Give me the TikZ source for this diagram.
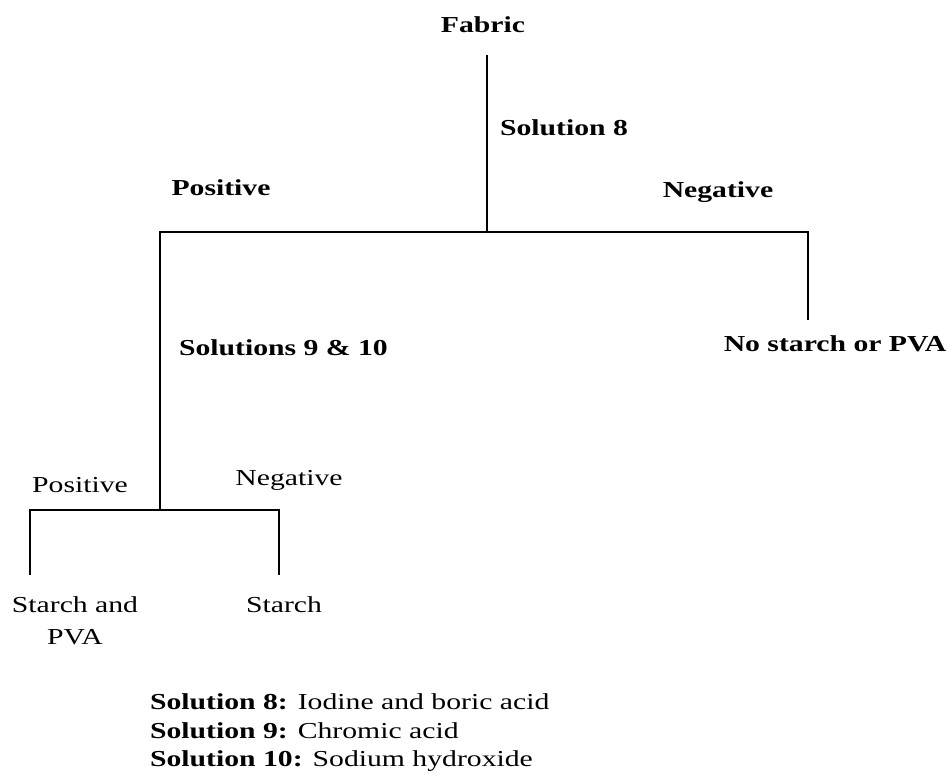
\documentclass[tikz,border=0pt]{standalone}
\usepackage{fontspec}
\setmainfont{Liberation Serif}[FakeStretch=1.3]
\usetikzlibrary{positioning}
\tikzset{
  branch/.style={line width=1.6pt},
  lbl/.style={font=\fontsize{13}{15.6}\selectfont, inner sep=1pt},
  lblb/.style={lbl, font=\fontsize{13}{15.6}\selectfont\bfseries},
}

\begin{document}
\begin{tikzpicture}
\useasboundingbox (0,0) rectangle (18.96,15.66);
% Junctions and branch ends
\coordinate (stem) at (9.74,14.56);
\coordinate (split1) at (9.74,11.02);
\coordinate (split2) at (3.2,5.46);
\coordinate (endneg1) at (16.16,9.26);
\coordinate (endpos2) at (0.6,4.16);
\coordinate (endneg2) at (5.58,4.16);
% Texts
\node[lblb] (fabric) at (9.66,15.16) {Fabric};
\node[lblb, anchor=west] (sol8) at (9.96,13.10) {Solution 8};
\node[lblb] (pos1) at (4.42,11.90) {Positive};
\node[lblb] (neg1) at (14.36,11.82) {Negative};
\node[lblb] (nostarch) at (16.70,8.78) {No starch or PVA};
\node[lblb, anchor=west] (sol910) at (3.54,8.70) {Solutions 9 \& 10};
\node[lbl] (pos2) at (1.60,5.96) {Positive};
\node[lbl] (neg2) at (5.78,6.06) {Negative};
\node[lbl, align=center, font=\fontsize{13}{18}\selectfont] (both) at (1.50,3.24) {Starch and\\PVA};
\node[lbl] (starch) at (5.68,3.56) {Starch};
% Tree
\draw[branch] (stem) -- (split1);
\draw[branch] (split1) -| (endneg1);
\draw[branch] (split1) -| (split2);
\draw[branch] (split2) -| (endpos2);
\draw[branch] (split2) -| (endneg2);
% Key
\node[lbl, anchor=west, align=left, font=\fontsize{13}{16.2}\selectfont] (key) at (2.96,1.0)
  {\textbf{Solution 8:} Iodine and boric acid\\
   \textbf{Solution 9:} Chromic acid\\
   \textbf{Solution 10:} Sodium hydroxide};
\end{tikzpicture}
\end{document}
